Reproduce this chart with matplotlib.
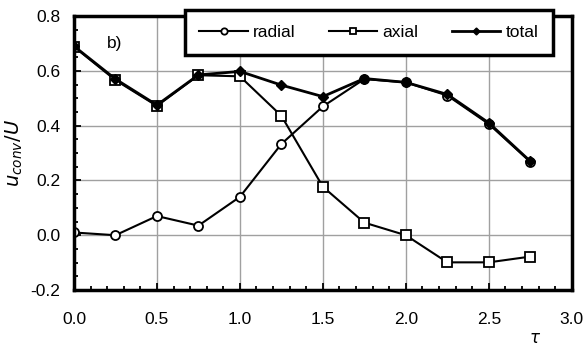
import numpy as np
import matplotlib.pyplot as plt
from matplotlib.ticker import MultipleLocator, FormatStrFormatter

plt.rcParams['font.family'] = ['Liberation Sans', 'DejaVu Sans']

# data
tau = [0.0, 0.25, 0.5, 0.75, 1.0, 1.25, 1.5, 1.75, 2.0, 2.25, 2.5, 2.75]
radial = [0.01, 0.0, 0.07, 0.035, 0.14, 0.333, 0.47, 0.57, 0.558, 0.51, 0.406, 0.268]
axial = [0.688, 0.566, 0.472, 0.584, 0.58, 0.436, 0.177, 0.046, 0.0, -0.099, -0.099, -0.078]
total = [0.69, 0.57, 0.475, 0.585, 0.598, 0.548, 0.506, 0.572, 0.558, 0.514, 0.41, 0.27]

fig = plt.figure(figsize=(5.87, 3.49), dpi=100)
ax = fig.add_axes([0.126, 0.169, 0.848, 0.785])

ax.plot(tau, radial, '-o', color='black', lw=1.5, ms=6.5, mfc='white', mew=1.3, label='radial')
ax.plot(tau, axial, '-s', color='black', lw=1.5, ms=6.5, mfc='white', mew=1.3, label='axial')
ax.plot(tau, total, '-D', color='black', lw=2.0, ms=5, mfc='black', label='total')

ax.set_xlim(0, 3.0)
ax.set_ylim(-0.2, 0.8)
ax.xaxis.set_major_locator(MultipleLocator(0.5))
ax.xaxis.set_minor_locator(MultipleLocator(0.1))
ax.yaxis.set_major_locator(MultipleLocator(0.2))
ax.yaxis.set_minor_locator(MultipleLocator(0.05))
ax.xaxis.set_major_formatter(FormatStrFormatter('%.1f'))
ax.yaxis.set_major_formatter(FormatStrFormatter('%.1f'))
ax.tick_params(which='both', direction='in', labelsize=12.5, width=1.3)
ax.tick_params(axis='x', which='major', pad=16)
ax.tick_params(axis='y', which='major', pad=10)
ax.tick_params(which='major', length=5)
ax.tick_params(which='minor', length=3)
ax.grid(True, which='major', color='#a0a0a0', lw=1)
ax.set_axisbelow(True)
for s in ax.spines.values():
    s.set_linewidth(2.5)

ax.set_ylabel('$u_{conv}/U$', fontsize=14, labelpad=4)
ax.text(0.2, 0.70, 'b)', fontsize=12.5, ha='left', va='center')
fig.text(0.912, 0.03, r'$\tau$', fontsize=12, ha='center', va='center')

leg = fig.legend(loc='upper right', bbox_to_anchor=(0.942, 0.971), ncol=3,
                 fontsize=12.5, frameon=True, fancybox=False, shadow=False,
                 handlelength=2.8, handletextpad=0.3, columnspacing=1.9,
                 borderaxespad=0, borderpad=0.85, markerscale=0.7)
leg.get_frame().set_edgecolor('black')
leg.get_frame().set_linewidth(2.5)
leg.get_frame().set_alpha(1)

fig.savefig('out.png', dpi=100)
